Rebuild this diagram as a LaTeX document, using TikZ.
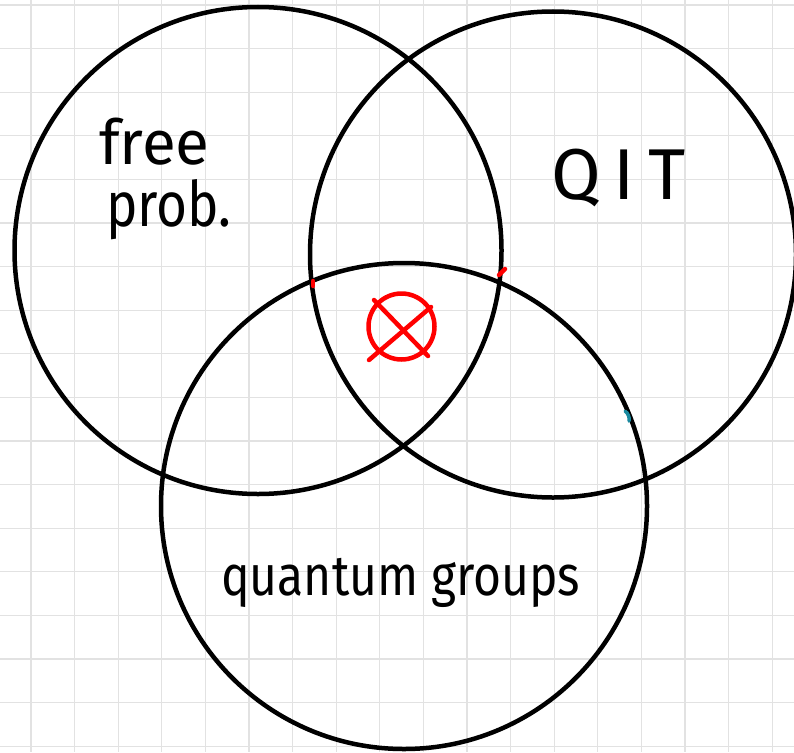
\documentclass[tikz,border=0pt]{standalone}
\usepackage{fontspec}
\setmainfont{Fira Sans}
\definecolor{gridgray}{HTML}{E2E2E2}
\definecolor{markteal}{HTML}{1A8AA0}
\tikzset{
  gridline/.style={draw=gridgray, line width=1.3pt},
  venn/.style={draw=black, line width=4.5pt},
  redmark/.style={draw=red, line width=4.5pt, line cap=round},
  lbl/.style={inner sep=0pt, anchor=base west},
}
\begin{document}
\begin{tikzpicture}[x=1pt,y=-1pt]
\useasboundingbox (0,0) rectangle (794,752);
\fill[white] (0,0) rectangle (794,752);
\clip (0,0) rectangle (794,752);
\foreach \i in {0,...,17} \draw[gridline] ({31+43.6*\i},0) -- ++(0,752);
\foreach \j in {0,...,17} \draw[gridline] (0,{5+43.6*\j}) -- ++(794,0);
% circles
\draw[venn] (258,250.5) circle[radius=243.5pt];
\draw[venn] (553,254.5) circle[radius=243pt];
\draw[venn] (404,506) circle[radius=243pt];
% labels
\node[lbl, font=\fontsize{62}{66}\selectfont] (free) at (99,164) {free};
\node[lbl, font=\fontsize{56}{60}\selectfont] (prob) at (106,226) {\scalebox{0.95}[1.12]{prob.}};
\node[lbl, font=\fontsize{72}{76}\selectfont] (qit) at (551,199) {Q\hspace{13pt}I\hspace{13pt}T};
\node[lbl, font=\fontsize{48}{52}\selectfont] (qg) at (221,595) {\scalebox{1.0}[1.18]{quantum groups}};
% red symbol
\draw[redmark] (401.5,326.5) circle[radius=33pt];
\draw[redmark] (374,300) -- (428,356);
\draw[redmark] (431,307) -- (369,360);
\draw[redmark] (313,281) -- (313,286);
\draw[redmark] (499,275) -- (505,269);
\draw[draw=markteal, line width=3.5pt, line cap=round] (625,411) to[bend left=30] (629,421);
\end{tikzpicture}
\end{document}
